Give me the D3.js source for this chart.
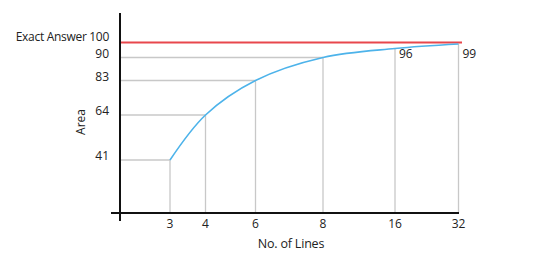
<html>
<meta charset='utf-8'>
<head>
    <script src="https://d3js.org/d3.v7.min.js"></script>
    <style>
      body { margin: 0; background: #fff; }
      text { font-family: "Open Sans", sans-serif; fill: #222; }
    </style>
</head>
<body>
<div id='viz'></div>
<script>
    // data
    let lines = [3, 4, 6, 8, 16, 32];
    let areas = [41, 64, 83, 90, 96, 99];
    let yTicks = [41, 64, 83, 90];
    let exact = 100;
    let exactLabel = 'Exact Answer';

    function createViz() {
        let svg = d3.select('#viz').append('svg')
                    .attr('width', 554)
                    .attr('height', 262);

        let axisX = 120, axisY = 213;

        // hand drawn spacing, so piecewise scales
        let x = d3.scaleLinear()
                  .domain(lines)
                  .range([170, 205.5, 255.5, 323, 395, 458.5]);
        let y = d3.scaleLinear()
                  .domain([41, 64, 83, 90, 100])
                  .range([160, 115, 80.5, 57.5, 42.5]);

        let pts = lines.map((d, i) => ({ n: d, a: areas[i] }));

        // vertical guides
        svg.selectAll('.vline').data(pts).enter().append('line')
            .attr('x1', d => x(d.n)).attr('x2', d => x(d.n))
            .attr('y1', axisY).attr('y2', d => y(d.a))
            .attr('stroke', '#c8c8c8').attr('stroke-width', 1.3);

        // horizontal guides
        svg.selectAll('.hline').data(pts.filter(d => yTicks.includes(d.a))).enter().append('line')
            .attr('x1', axisX).attr('x2', d => x(d.n))
            .attr('y1', d => y(d.a)).attr('y2', d => y(d.a))
            .attr('stroke', '#c8c8c8').attr('stroke-width', 1.3);

        // exact answer
        svg.append('line')
            .attr('x1', axisX).attr('x2', 462)
            .attr('y1', y(exact)).attr('y2', y(exact))
            .attr('stroke', '#e8474c').attr('stroke-width', 2);

        // curve
        let line = d3.line()
                     .x(d => x(d.n))
                     .y(d => y(d.a))
                     .curve(d3.curveCatmullRom.alpha(0.5));
        svg.append('path')
            .datum(pts)
            .attr('d', line)
            .attr('fill', 'none')
            .attr('stroke', '#4db3ea')
            .attr('stroke-width', 1.6);

        // axes
        svg.append('line')
            .attr('x1', axisX).attr('x2', axisX)
            .attr('y1', 13).attr('y2', 221)
            .attr('stroke', '#111').attr('stroke-width', 2);
        svg.append('line')
            .attr('x1', 111).attr('x2', 459)
            .attr('y1', axisY).attr('y2', axisY)
            .attr('stroke', '#111').attr('stroke-width', 2);

        // y labels
        svg.selectAll('.ylab').data(yTicks).enter().append('text')
            .attr('x', 109).attr('y', d => y(d) - (d == 90 ? 2.5 : 3))
            .attr('text-anchor', 'end')
            .attr('dominant-baseline', 'middle')
            .attr('font-size', '12px')
            .text(d => d);
        svg.append('text')
            .attr('x', 109).attr('y', y(exact) - 4.5)
            .attr('text-anchor', 'end')
            .attr('dominant-baseline', 'middle')
            .attr('font-size', '12px')
            .attr('letter-spacing', '-0.3px')
            .text(exactLabel + ' ' + exact);

        // x labels
        svg.selectAll('.xlab').data(lines).enter().append('text')
            .attr('x', d => x(d)).attr('y', 225)
            .attr('text-anchor', 'middle')
            .attr('dominant-baseline', 'middle')
            .attr('font-size', '12px')
            .text(d => d);

        // value labels at top
        svg.selectAll('.vlab').data(pts.filter(d => d.n >= 16)).enter().append('text')
            .attr('x', d => x(d.n) + 4).attr('y', 55)
            .attr('dominant-baseline', 'middle')
            .attr('font-size', '12px')
            .text(d => d.a);

        // axis titles
        svg.append('text')
            .attr('x', 291).attr('y', 245)
            .attr('text-anchor', 'middle')
            .attr('dominant-baseline', 'middle')
            .attr('font-size', '12.5px')
            .attr('letter-spacing', '-0.2px')
            .text('No. of Lines');
        svg.append('text')
            .attr('transform', 'translate(82,122) rotate(-90)')
            .attr('text-anchor', 'middle')
            .attr('dominant-baseline', 'middle')
            .attr('font-size', '12px')
            .text('Area');
    }

    createViz();
</script>
</body>
</html>
